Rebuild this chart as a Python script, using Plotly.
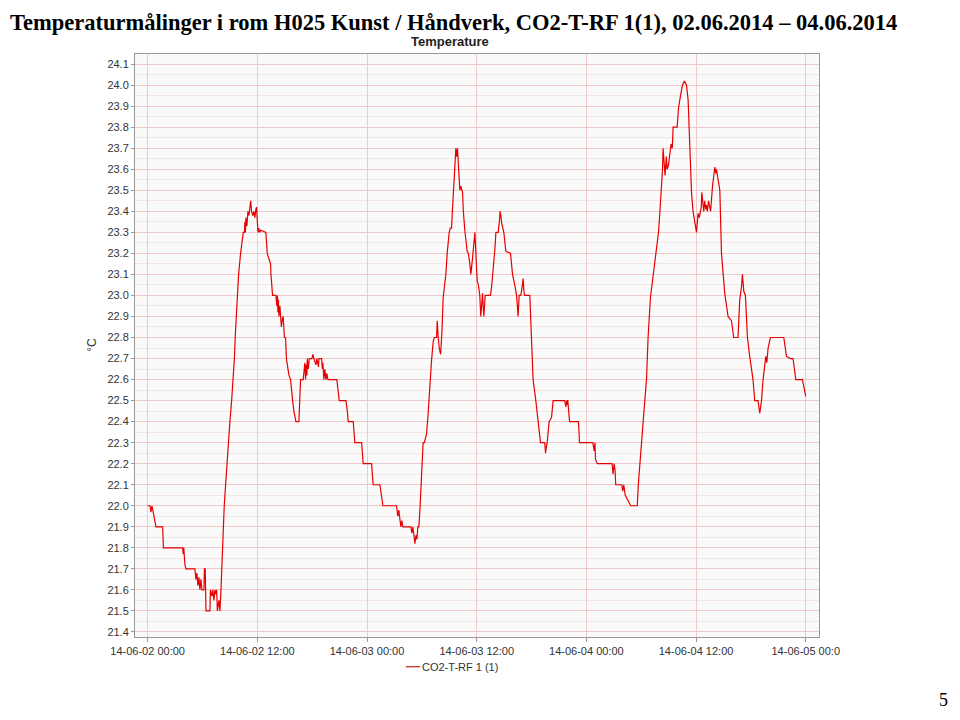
import pandas as pd
import plotly.graph_objects as go

# hours after 2014-06-02 00:00 and measured temperature (°C)
hours = [0.00, 0.25, 0.36, 0.47, 0.61, 0.69, 0.80, 0.91, 1.64, 1.68, 1.70, 1.73, 3.83, 3.89, 3.95, 4.02, 4.08, 4.19,
         5.17, 5.28, 5.39, 5.50, 5.61, 5.72, 5.83, 5.94, 6.16, 6.21, 6.30, 6.38, 6.81, 6.87, 7.03, 7.14, 7.25, 7.36,
         7.47, 7.55, 7.63, 7.80, 7.91, 8.02, 8.09, 8.23, 8.38, 8.53, 8.67, 8.82, 9.00, 9.19, 9.36, 9.49, 9.58, 9.71,
         9.80, 9.95, 10.17, 10.31, 10.46, 10.59, 10.64, 10.70, 10.75, 10.86, 10.97, 11.08, 11.19, 11.27, 11.37, 11.51,
         11.62, 11.73, 11.84, 11.92, 12.00, 12.08, 12.16, 12.27, 12.38, 12.94, 13.08, 13.45, 13.49, 13.67, 14.03, 14.14,
         14.20, 14.25, 14.31, 14.36, 14.47, 14.52, 14.63, 14.74, 14.83, 14.96, 15.09, 15.18, 15.38, 15.46, 15.64, 15.73,
         15.86, 16.00, 16.22, 16.55, 16.60, 16.66, 16.73, 17.02, 17.10, 17.20, 17.28, 17.34, 17.42, 17.47, 17.58, 17.68,
         17.97, 18.08, 18.19, 18.41, 18.52, 18.69, 18.74, 19.03, 19.12, 19.17, 19.28, 19.39, 19.50, 19.61, 19.72, 20.70,
         20.96, 21.69, 21.85, 21.94, 22.49, 22.67, 23.41, 23.50, 23.58, 24.50, 24.67, 25.41, 25.59, 25.74, 27.23, 27.37,
         27.48, 27.60, 27.70, 27.81, 27.92, 28.80, 28.91, 29.02, 29.13, 29.24, 29.35, 29.46, 29.56, 29.67, 29.79, 29.90,
         30.01, 30.14, 30.27, 30.38, 30.51, 30.69, 30.88, 31.06, 31.24, 31.37, 31.61, 31.68, 31.79, 31.90, 32.05, 32.19,
         32.33, 32.63, 32.77, 32.99, 33.12, 33.25, 33.34, 33.42, 33.61, 33.72, 33.83, 33.90, 34.01, 34.08, 34.16, 34.27,
         34.45, 34.54, 34.70, 34.96, 35.09, 35.25, 35.36, 35.55, 35.69, 35.80, 35.91, 36.05, 36.18, 36.34, 36.45, 36.56,
         36.64, 36.71, 36.78, 36.93, 37.51, 37.65, 37.80, 37.99, 38.10, 38.35, 38.48, 38.56, 38.64, 38.75, 38.97, 39.19,
         39.70, 39.92, 40.21, 40.36, 40.45, 40.53, 40.64, 40.83, 40.94, 41.02, 41.08, 41.15, 41.23, 41.81, 42.00, 42.17,
         42.47, 42.72, 42.98, 43.45, 43.53, 43.62, 43.71, 43.82, 43.92, 44.19, 44.28, 44.36, 45.64, 45.75, 45.86, 45.90,
         45.94, 45.97, 46.16, 47.14, 47.25, 48.71, 48.78, 48.86, 48.94, 49.00, 49.20, 50.59, 50.81, 50.92, 51.03, 51.14,
         51.18, 51.21, 51.87, 51.98, 52.09, 52.25, 52.86, 53.57, 53.68, 53.84, 54.00, 54.20, 54.39, 54.58, 54.75, 55.01,
         55.30, 55.59, 55.89, 56.03, 56.22, 56.33, 56.39, 56.46, 56.50, 56.61, 56.75, 56.83, 56.98, 57.13, 57.27, 57.40,
         57.49, 57.93, 58.08, 58.30, 58.51, 58.73, 58.95, 59.13, 59.31, 59.50, 59.67, 59.86, 60.05, 60.22, 60.35, 60.48,
         60.57, 60.63, 60.74, 60.84, 60.95, 61.06, 61.14, 61.23, 61.36, 61.45, 61.59, 61.80, 61.94, 62.05, 62.16, 62.23,
         62.41, 62.60, 62.78, 62.96, 63.14, 63.50, 63.87, 64.12, 64.59, 64.78, 64.97, 65.07, 65.22, 65.40, 65.62, 65.87,
         66.06, 66.23, 66.42, 66.78, 66.97, 67.16, 67.33, 67.63, 67.74, 67.88, 68.14, 69.60, 69.89, 70.33, 70.61, 70.91,
         71.64, 71.78, 72.00]
temps = [22.00, 22.00, 21.97, 22.00, 21.97, 21.95, 21.93, 21.90, 21.90, 21.86, 21.89, 21.80, 21.80, 21.77, 21.80, 21.74, 21.72, 21.70,
         21.70, 21.65, 21.68, 21.62, 21.66, 21.60, 21.65, 21.60, 21.60, 21.70, 21.70, 21.50, 21.50, 21.60, 21.57, 21.60, 21.55, 21.60,
         21.58, 21.60, 21.50, 21.55, 21.50, 21.60, 21.70, 21.80, 22.00, 22.10, 22.20, 22.30, 22.40, 22.50, 22.60, 22.70, 22.80, 22.90,
         23.00, 23.10, 23.20, 23.25, 23.30, 23.30, 23.35, 23.30, 23.37, 23.33, 23.40, 23.38, 23.43, 23.45, 23.40, 23.38,
         23.40, 23.37, 23.41, 23.42, 23.35, 23.30, 23.32, 23.30, 23.31, 23.30, 23.20, 23.15, 23.10, 23.00, 23.00, 22.95,
         23.00, 22.92, 22.98, 22.90, 22.95, 22.90, 22.85, 22.89, 22.90, 22.80, 22.80, 22.70, 22.65, 22.62, 22.60, 22.55,
         22.50, 22.45, 22.40, 22.40, 22.45, 22.50, 22.60, 22.60, 22.65, 22.68, 22.60, 22.67, 22.62, 22.70, 22.65, 22.70,
         22.70, 22.72, 22.70, 22.67, 22.70, 22.66, 22.70, 22.70, 22.65, 22.68, 22.60, 22.65, 22.60, 22.63, 22.60, 22.60,
         22.50, 22.50, 22.45, 22.40, 22.40, 22.30, 22.30, 22.25, 22.20, 22.20, 22.10, 22.10, 22.05, 22.00, 22.00, 21.95,
         21.98, 21.93, 21.90, 21.93, 21.90, 21.90, 21.87, 21.90, 21.85, 21.82, 21.86, 21.84, 21.90, 21.90, 21.98, 22.10,
         22.20, 22.30, 22.30, 22.32, 22.34, 22.44, 22.60, 22.69, 22.78, 22.80, 22.80, 22.88, 22.80, 22.75, 22.72, 22.82,
         22.99, 23.10, 23.20, 23.30, 23.32, 23.32, 23.40, 23.47, 23.63, 23.70, 23.66, 23.70, 23.61, 23.55, 23.50, 23.52,
         23.49, 23.40, 23.31, 23.21, 23.20, 23.15, 23.10, 23.18, 23.25, 23.30, 23.20, 23.07, 23.05, 23.00, 22.90, 23.00,
         23.01, 22.95, 22.90, 23.00, 23.00, 23.05, 23.12, 23.22, 23.30, 23.30, 23.35, 23.40, 23.38, 23.34, 23.30, 23.21,
         23.20, 23.10, 23.04, 23.00, 22.95, 22.90, 23.00, 23.00, 23.03, 23.05, 23.08, 23.03, 23.00, 23.00, 22.80, 22.60,
         22.50, 22.41, 22.30, 22.30, 22.25, 22.28, 22.30, 22.35, 22.40, 22.42, 22.45, 22.50, 22.50, 22.47, 22.50, 22.48,
         22.50, 22.50, 22.40, 22.40, 22.30, 22.30, 22.28, 22.26, 22.30, 22.22, 22.20, 22.20, 22.20, 22.15, 22.20, 22.17,
         22.15, 22.10, 22.10, 22.07, 22.10, 22.05, 22.00, 22.00, 22.10, 22.20, 22.30, 22.42, 22.50, 22.60, 22.80, 22.99,
         23.10, 23.19, 23.30, 23.39, 23.52, 23.60, 23.70, 23.65, 23.64, 23.57, 23.66, 23.60, 23.62, 23.69, 23.72, 23.70,
         23.80, 23.80, 23.89, 23.95, 24.00, 24.02, 24.00, 23.93, 23.72, 23.49, 23.40, 23.34, 23.30, 23.39, 23.37, 23.40,
         23.42, 23.49, 23.42, 23.40, 23.45, 23.41, 23.43, 23.40, 23.45, 23.42, 23.40, 23.52, 23.57, 23.61, 23.58, 23.60,
         23.55, 23.50, 23.20, 23.10, 23.01, 22.90, 22.88, 22.80, 22.80, 22.98, 23.04, 23.10, 23.02, 23.00, 22.80, 22.71,
         22.65, 22.60, 22.50, 22.50, 22.44, 22.50, 22.60, 22.71, 22.68, 22.75, 22.80, 22.80, 22.71, 22.70, 22.70, 22.60,
         22.60, 22.57, 22.52]

y_ticks = [21.4, 21.5, 21.6, 21.7, 21.8, 21.9, 22.0, 22.1, 22.2, 22.3, 22.4, 22.5, 22.6, 22.7,
           22.8, 22.9, 23.0, 23.1, 23.2, 23.3, 23.4, 23.5, 23.6, 23.7, 23.8, 23.9, 24.0, 24.1]
x_tick_times = ["2014-06-02 00:00", "2014-06-02 12:00", "2014-06-03 00:00", "2014-06-03 12:00",
                "2014-06-04 00:00", "2014-06-04 12:00", "2014-06-05 00:00"]
x_tick_labels = ["14-06-02 00:00", "14-06-02 12:00", "14-06-03 00:00", "14-06-03 12:00",
                 "14-06-04 00:00", "14-06-04 12:00", "14-06-05 00:0"]

start = pd.Timestamp("2014-06-02 00:00")
times = [start + pd.Timedelta(hours=h) for h in hours]

fig = go.Figure()
fig.add_trace(go.Scatter(x=times, y=temps, mode='lines', name='CO2-T-RF 1 (1)',
                         line=dict(color='#e60000', width=1.2), showlegend=False))

grid_major = '#eecaca'
grid_minor = '#f5e6e6'
sans = 'Liberation Sans, Arial, sans-serif'
serif = 'Liberation Serif, Times New Roman, serif'

# the page body adds 8px around the figure, so the figure is 952x704
fig.update_layout(
    width=952, height=704,
    margin=dict(l=127, r=141, t=46, b=75),
    paper_bgcolor='white', plot_bgcolor='#fbfafa',
    font=dict(family=sans, size=11, color='#333333'),
    xaxis=dict(type='date', range=[pd.Timestamp("2014-06-01 22:37"), pd.Timestamp("2014-06-05 01:27")],
               tickvals=x_tick_times, ticktext=x_tick_labels,
               showgrid=True, gridcolor=grid_major, gridwidth=1,
               showline=True, linecolor='#999999', mirror=True, linewidth=1,
               ticks='outside', ticklen=4, tickcolor='#999999', zeroline=False),
    yaxis=dict(range=[21.376, 24.148], tickvals=y_ticks, ticktext=[f'{v:.1f}' for v in y_ticks],
               showgrid=True, gridcolor=grid_major, gridwidth=1,
               minor=dict(dtick=0.05, tick0=21.4, showgrid=True, gridcolor=grid_minor),
               showline=True, linecolor='#999999', mirror=True, linewidth=1,
               ticks='outside', ticklen=3, tickcolor='#999999', zeroline=False),
)

# legend drawn by hand: short line sample and label below the plot
fig.add_shape(type='line', xref='paper', yref='paper', x0=0.396, x1=0.417, y0=-0.051, y1=-0.051,
              line=dict(color='#c02020', width=1.2))
fig.add_annotation(text='CO2-T-RF 1 (1)', xref='paper', yref='paper', x=0.416, y=-0.051,
                   xanchor='left', yanchor='middle', showarrow=False,
                   font=dict(family=sans, size=11, color='#333333'))

# page header, chart title, axis label, page number
fig.add_annotation(text='<b>Temperaturmålinger i rom H025 Kunst / Håndverk, CO2-T-RF 1(1), 02.06.2014 – 04.06.2014</b>',
                   xref='paper', yref='paper', x=-0.1857, y=1.0532, xanchor='left', yanchor='middle',
                   showarrow=False, font=dict(family=serif, size=22.5, color='black'))
fig.add_annotation(text='<b>Temperature</b>', xref='paper', yref='paper', x=0.4605, y=1.0206,
                   xanchor='center', yanchor='middle', showarrow=False,
                   font=dict(family=sans, size=13, color='#222222'))
fig.add_annotation(text='°C', xref='paper', yref='paper', x=-0.063, y=0.501, textangle=-90,
                   xanchor='center', yanchor='middle', showarrow=False,
                   font=dict(family=sans, size=12, color='#333333'))
fig.add_annotation(text='5', xref='paper', yref='paper', x=1.192, y=-0.108, xanchor='right', yanchor='middle',
                   showarrow=False, font=dict(family=serif, size=18, color='black'))

fig.write_html("out.html")
